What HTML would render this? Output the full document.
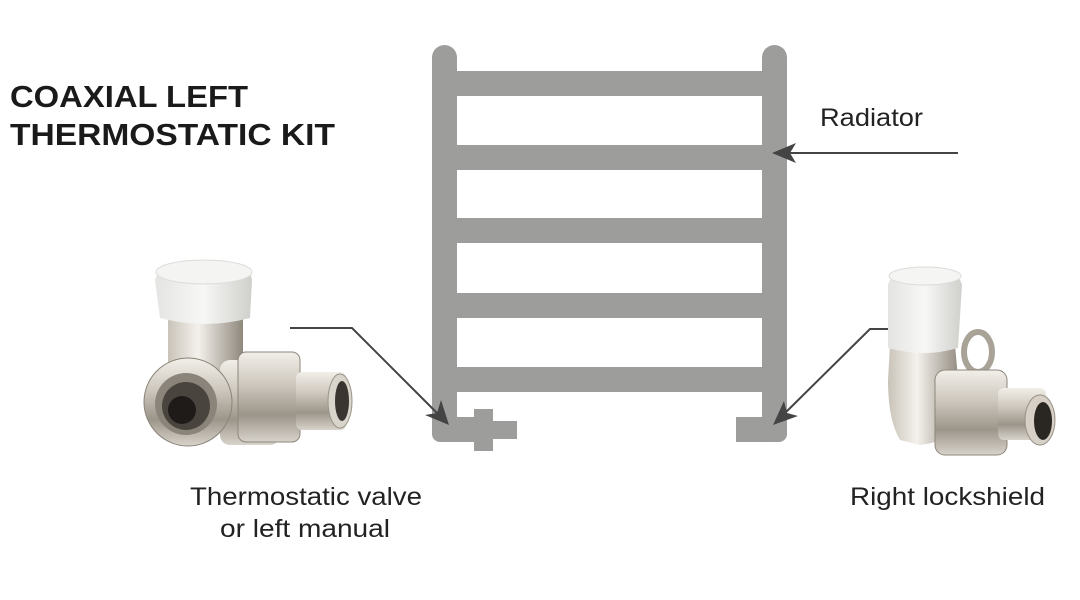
<!DOCTYPE html>
<html><head><meta charset="utf-8"><style>
html,body{margin:0;padding:0;background:#fff;}
svg{display:block;}
text{font-family:"Liberation Sans",sans-serif;}
</style></head><body>
<svg width="1080" height="600" viewBox="0 0 1080 600" xmlns="http://www.w3.org/2000/svg">
<defs>
<linearGradient id="metal" x1="0" y1="0" x2="0" y2="1">
<stop offset="0" stop-color="#f2efe9"/><stop offset="0.35" stop-color="#cfc9bf"/><stop offset="0.7" stop-color="#9c958a"/><stop offset="1" stop-color="#d8d3cb"/></linearGradient>
<linearGradient id="metalH" x1="0" y1="0" x2="1" y2="0">
<stop offset="0" stop-color="#c9c3b9"/><stop offset="0.4" stop-color="#f4f1ec"/><stop offset="1" stop-color="#8f887d"/></linearGradient>
<linearGradient id="cap" x1="0" y1="0" x2="1" y2="0">
<stop offset="0" stop-color="#e4e4e2"/><stop offset="0.5" stop-color="#f7f7f5"/><stop offset="1" stop-color="#cfcfcc"/></linearGradient>
</defs>

<text x="10" y="107" font-size="31" font-weight="bold" fill="#1a1a1a" textLength="238" lengthAdjust="spacingAndGlyphs">COAXIAL LEFT</text>
<text x="10" y="145" font-size="31" font-weight="bold" fill="#1a1a1a" textLength="325" lengthAdjust="spacingAndGlyphs">THERMOSTATIC KIT</text>

<g fill="#9d9d9c">
<rect x="432" y="45" width="25" height="397" rx="12.5"/>
<rect x="440" y="417" width="34" height="25"/>
<rect x="432" y="405" width="25" height="37" rx="8"/>
<rect x="762" y="45" width="25" height="397" rx="12.5"/>
<rect x="736" y="417" width="40" height="25"/>
<rect x="762" y="405" width="25" height="37" rx="8"/>
<rect x="457" y="71" width="305" height="25"/>
<rect x="457" y="145" width="305" height="25"/>
<rect x="457" y="218" width="305" height="25"/>
<rect x="457" y="293" width="305" height="25"/>
<rect x="457" y="367" width="305" height="25"/>
<rect x="457" y="421" width="60" height="18"/>
<rect x="474" y="409" width="19" height="42"/>
</g>

<g stroke="#444" stroke-width="2" fill="none">
<line x1="958" y1="153" x2="780" y2="153"/>
<polyline points="290,328 352,328 442,418"/>
<polyline points="893,329 870,329 780,418"/>
</g>
<g fill="#444">
<polygon points="772,153 796,143 790,153 796,163"/>
<polygon points="449,425 425,415 437,413 441,400"/>
<polygon points="773,425 784,401 787,413 798,416"/>
</g>

<text x="820" y="126" font-size="25" fill="#222" textLength="103" lengthAdjust="spacingAndGlyphs">Radiator</text>
<text x="190" y="505" font-size="25" fill="#222" textLength="232" lengthAdjust="spacingAndGlyphs">Thermostatic valve</text>
<text x="220" y="537" font-size="25" fill="#222" textLength="170" lengthAdjust="spacingAndGlyphs">or left manual</text>
<text x="850" y="505" font-size="25" fill="#222" textLength="195" lengthAdjust="spacingAndGlyphs">Right lockshield</text>

<g>
<rect x="168" y="310" width="75" height="110" fill="url(#metalH)"/>
<rect x="220" y="360" width="60" height="85" rx="10" fill="url(#metal)"/>
<rect x="238" y="352" width="62" height="90" rx="8" fill="url(#metal)" stroke="#8d867b" stroke-width="1"/>
<rect x="296" y="372" width="50" height="58" rx="6" fill="url(#metal)"/>
<ellipse cx="340" cy="401" rx="12" ry="27" fill="#d9d4cc" stroke="#9a9387"/>
<ellipse cx="342" cy="401" rx="7" ry="20" fill="#3a3530"/>
<circle cx="188" cy="402" r="44" fill="url(#metal)" stroke="#8a8378"/>
<circle cx="186" cy="404" r="31" fill="#8a847b"/>
<circle cx="186" cy="406" r="24" fill="#4a443e"/>
<circle cx="182" cy="410" r="14" fill="#1e1b18"/>
<path d="M155 280 Q160 262 205 262 Q250 262 252 280 L250 318 Q205 330 160 318 Z" fill="url(#cap)"/>
<ellipse cx="204" cy="272" rx="48" ry="12" fill="#f4f4f2" stroke="#dcdcda"/>
</g>

<g>
<ellipse cx="978" cy="352" rx="14" ry="20" fill="none" stroke="#a9a296" stroke-width="6"/>
<path d="M890 345 L955 345 L960 400 Q965 440 920 445 L900 440 Q888 420 888 380 Z" fill="url(#metalH)"/>
<rect x="935" y="370" width="72" height="85" rx="10" fill="url(#metal)" stroke="#8d867b"/>
<rect x="998" y="388" width="48" height="52" rx="6" fill="url(#metal)"/>
<ellipse cx="1040" cy="420" rx="15" ry="25" fill="#d6d0c6" stroke="#999085"/>
<ellipse cx="1043" cy="421" rx="9" ry="19" fill="#2a2622"/>
<path d="M888 285 Q892 268 925 268 Q958 268 962 285 L958 348 Q925 358 888 348 Z" fill="url(#cap)"/>
<ellipse cx="925" cy="276" rx="36" ry="9" fill="#f5f5f3" stroke="#dcdcda"/>
</g>
</svg>
</body></html>
